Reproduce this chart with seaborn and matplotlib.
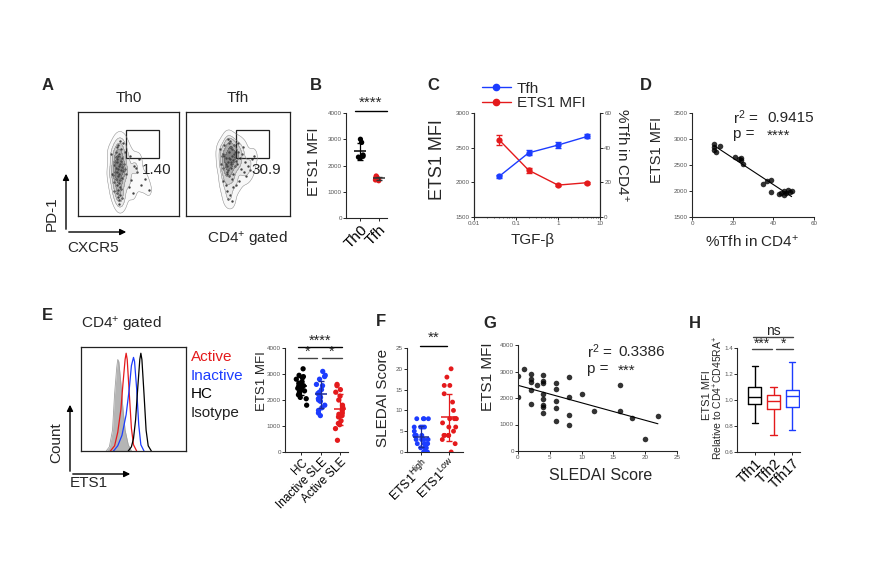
import numpy as np
import pandas as pd
import seaborn as sns
import matplotlib.pyplot as plt
from matplotlib.lines import Line2D
from matplotlib.patches import Rectangle, FancyArrowPatch

sns.set_style('ticks')
plt.rcParams['font.family'] = ['Liberation Sans', 'DejaVu Sans']
plt.rcParams['mathtext.default'] = 'regular'

# ---------------- data ----------------
# A: flow plots (PD-1 vs CXCR5), rough cell positions on a 0-100 scale
th0_x = [40, 41, 39, 42, 38, 43, 40, 37, 44, 41, 39, 42, 36, 45, 40, 38, 43, 41, 39, 44,
         37, 42, 40, 35, 46, 41, 38, 43, 39, 42, 40, 36, 44, 41, 47, 39, 43, 38, 41, 40,
         48, 52, 55, 50, 58, 62, 54, 66, 60, 70, 45, 33, 34, 47, 51, 44, 36, 42, 39, 57]
th0_y = [45, 48, 42, 50, 46, 44, 38, 52, 47, 40, 55, 35, 49, 43, 58, 36, 53, 32, 30, 56,
         42, 28, 25, 39, 50, 60, 62, 64, 22, 20, 18, 33, 37, 15, 45, 66, 26, 57, 12, 68,
         40, 35, 48, 28, 42, 30, 22, 36, 55, 25, 70, 60, 40, 62, 58, 17, 24, 72, 52, 46]
tfh_x = [42, 44, 40, 46, 38, 43, 41, 45, 39, 47, 36, 48, 42, 40, 44, 37, 49, 41, 43, 35,
         50, 39, 46, 33, 45, 42, 38, 52, 40, 47, 44, 36, 41, 43, 39, 54, 57, 60, 56, 63,
         48, 51, 45, 39, 42, 36, 40, 44, 53, 58, 34, 38, 47, 50, 62, 41, 37, 55, 65, 43]
tfh_y = [55, 58, 52, 60, 56, 50, 62, 54, 48, 57, 60, 53, 66, 44, 64, 68, 50, 70, 46, 58,
         62, 42, 68, 64, 40, 72, 50, 56, 74, 48, 36, 46, 38, 66, 40, 60, 52, 48, 42, 55,
         30, 34, 28, 24, 20, 34, 16, 14, 45, 38, 50, 30, 62, 70, 44, 56, 58, 66, 58, 52]
gate = [48, 56, 32, 27]          # x, y, width, height
gate_pct = ['1.40', '30.9']

# B: ETS1 MFI, Th0 vs Tfh
b_groups = ['Th0', 'Tfh']
b_th0 = [3000, 2880, 2320, 2280, 2350, 2400]
b_tfh = [1600, 1560, 1520, 1480, 1450, 1420]

# C: TGF-beta titration
tgf_dose = [0.04, 0.2, 1, 5]
ets1_mfi = [2610, 2175, 1960, 1995]
ets1_sem = [70, 35, 15, 15]
tfh_pct = [23.5, 37, 41.5, 46.5]
tfh_sem = [0.8, 1.5, 1.5, 1.2]

# D: ETS1 MFI vs %Tfh
d_tfh = [11, 11, 11, 12, 14, 21, 23, 24, 24, 25, 35, 37, 39, 39, 43, 44, 45, 45, 46, 47, 49, 48]
d_mfi = [2900, 2850, 2780, 2750, 2870, 2650, 2620, 2600, 2640, 2520, 2140, 2200, 2210, 1980,
         1950, 1960, 1920, 2000, 1970, 2020, 2000, 1990]

# E: histograms (x on a 0-100 intensity scale, y = % of max)
iso_x = [24, 27, 30, 32, 34, 35, 36, 38, 40, 42, 45, 48]
iso_y = [0, 4, 20, 55, 80, 88, 86, 65, 40, 20, 6, 0]
act_x = [28, 32, 35, 38, 40, 42, 43, 44, 46, 48, 50, 53]
act_y = [0, 5, 18, 40, 65, 88, 94, 88, 55, 22, 6, 0]
ina_x = [31, 35, 39, 43, 46, 48, 50, 51, 53, 55, 57, 60]
ina_y = [0, 5, 15, 35, 60, 82, 90, 86, 60, 25, 6, 0]
hc_x = [45, 48, 50, 52, 54, 56, 57, 58, 60, 62, 64, 67]
hc_y = [0, 4, 12, 30, 60, 88, 94, 88, 55, 20, 5, 0]

# E: ETS1 MFI by group
e_groups = ['HC', 'Inactive SLE', 'Active SLE']
e_hc = [3200, 2950, 2900, 2850, 2800, 2700, 2650, 2600, 2600, 2550, 2500, 2450, 2400,
        2350, 2300, 2200, 2100, 2050, 1800]
e_inactive = [3100, 2950, 2900, 2800, 2600, 2550, 2400, 2300, 2250, 2150, 2100, 2050,
              2000, 1950, 1800, 1700, 1600, 1500, 1400]
e_active = [2600, 2550, 2400, 2300, 2150, 2000, 1800, 1700, 1600, 1500, 1450, 1400, 1350,
            1200, 1100, 1050, 900, 450]

# F: SLEDAI score by ETS1 level
f_groups = ['ETS1$^{High}$', 'ETS1$^{Low}$']
f_high = [8, 8, 8, 8, 6, 6, 6, 6, 5, 4, 4, 4, 4, 4, 3, 3, 3, 3, 2, 2, 2, 2, 1, 1, 1, 0, 0, 0]
f_low = [20, 18, 16, 16, 14, 12, 10, 8, 8, 8, 7, 6, 6, 5, 4, 4, 4, 4, 3, 2, 0]

# G: ETS1 MFI vs SLEDAI
g_sledai = [0, 0, 1, 2, 2, 2, 2, 2, 3, 4, 4, 4, 4, 4, 4, 4, 4, 6, 6, 6, 6, 6, 8, 8, 8, 8,
            10, 12, 16, 16, 18, 20, 22]
g_mfi = [2830, 2025, 3094, 2906, 2730, 2616, 2300, 1774, 2478, 2868, 2629, 2578, 2150,
         1950, 1748, 1648, 1447, 2553, 2327, 1900, 1610, 1145, 2805, 2050, 1358, 968,
         2150, 1509, 2490, 1522, 1232, 440, 1308]

# H: box summaries (min, q1, median, q3, max)
h_groups = ['Tfh1', 'Tfh2', 'Tfh17']
h_tfh1 = [0.82, 0.97, 1.02, 1.10, 1.26]
h_tfh2 = [0.73, 0.93, 0.99, 1.04, 1.10]
h_tfh17 = [0.77, 0.95, 1.03, 1.08, 1.29]

RED = '#e41a1c'
BLUE = '#1c3cff'
BLACK = '#000000'
TICK_C = '#555555'

W, H = 880, 580
fig = plt.figure(figsize=(W / 100, H / 100), dpi=100)


def fx(x):
    return x / W


def fy(y):
    return 1 - y / H


def px_axes(x0, y0, x1, y1):
    return fig.add_axes([fx(x0), fy(y1), (x1 - x0) / W, (y1 - y0) / H])


def txt(x, y, s, size=11, ha='center', va='center', **kw):
    fig.text(fx(x), fy(y), s, fontsize=size, ha=ha, va=va, **kw)


def hline(x0, x1, y, color='k', lw=1.0):
    fig.add_artist(Line2D([fx(x0), fx(x1)], [fy(y), fy(y)], transform=fig.transFigure,
                          color=color, lw=lw))


def arrow(x0, y0, x1, y1):
    fig.add_artist(FancyArrowPatch((fx(x0), fy(y0)), (fx(x1), fy(y1)),
                                   transform=fig.transFigure, arrowstyle='-|>',
                                   mutation_scale=9, lw=1, color='k'))


def style_ax(ax):
    sns.despine(ax=ax)
    ax.tick_params(direction='out', length=2, width=0.7, labelsize=4.5,
                   labelcolor=TICK_C, pad=1)
    for s in ax.spines.values():
        s.set_linewidth(0.8)


def mean_sd(ax, pos, vals, color, half=0.3):
    m = np.mean(vals)
    s = np.std(vals, ddof=1)
    ax.hlines(m, pos - half, pos + half, color=color, lw=1.1, zorder=5)
    ax.errorbar(pos, m, yerr=s, fmt='none', ecolor=color, capsize=2.5, lw=0.9, zorder=5)


def box_ax(ax):
    ax.set_xticks([])
    ax.set_yticks([])
    ax.set_xlabel('')
    ax.set_ylabel('')
    for s in ax.spines.values():
        s.set_visible(True)
        s.set_linewidth(0.9)
        s.set_color('#222222')


np.random.seed(3)

# ---------------- A ----------------
txt(48, 85, 'A', size=12, weight='bold')
for (x0, x1), px, py, title, pct in [((78, 179), th0_x, th0_y, 'Th0', gate_pct[0]),
                                     ((186, 290), tfh_x, tfh_y, 'Tfh', gate_pct[1])]:
    ax = px_axes(x0, 112, x1, 216)
    sns.kdeplot(x=px, y=py, levels=6, fill=True, cmap='Greys', alpha=0.55, thresh=0.05,
                bw_adjust=0.9, ax=ax)
    sns.kdeplot(x=px, y=py, levels=6, color='#8a8a8a', linewidths=0.35, thresh=0.05,
                bw_adjust=0.9, ax=ax)
    sns.scatterplot(x=px, y=py, s=3, color='#444444', linewidth=0, ax=ax)
    ax.add_patch(Rectangle((gate[0], gate[1]), gate[2], gate[3], fill=False, lw=0.9,
                           edgecolor='#222222'))
    ax.text(gate[0] + 15, gate[1] - 12, pct, fontsize=11, ha='left', va='center')
    ax.set_xlim(0, 100)
    ax.set_ylim(0, 100)
    box_ax(ax)
    txt((x0 + x1) / 2, 98, title, size=11)
arrow(66, 232, 66, 171)
arrow(66, 232, 129, 232)
txt(52, 214, 'PD-1', size=11, rotation=90)
txt(67, 248, 'CXCR5', size=11, ha='left')
txt(247, 240, 'CD4$^{+}$ gated', size=11)

# ---------------- B ----------------
txt(316, 85, 'B', size=12, weight='bold')
ax = px_axes(346, 113, 387, 218)
df_b = pd.DataFrame({'group': [b_groups[0]] * len(b_th0) + [b_groups[1]] * len(b_tfh),
                     'mfi': b_th0 + b_tfh})
sns.stripplot(data=df_b, x='group', y='mfi', hue='group', palette=[BLACK, RED],
              size=3.8, jitter=0.2, legend=False, ax=ax)
mean_sd(ax, 0, b_th0, BLACK)
mean_sd(ax, 1, b_tfh, '#333333')
ax.set_ylim(0, 4000)
ax.set_yticks([0, 1000, 2000, 3000, 4000])
ax.set_xlim(-0.74, 1.42)
style_ax(ax)
ax.set_xlabel('')
ax.set_ylabel('')
ax.set_xticks([0, 1])
ax.set_xticklabels(b_groups, rotation=45, ha='right', rotation_mode='anchor',
                   fontsize=11, color='k')
txt(314, 162, 'ETS1 MFI', size=11, rotation=90)
hline(355, 387, 111)
txt(371, 103, '****', size=11)

# ---------------- C ----------------
txt(433, 85, 'C', size=12, weight='bold')
ax = px_axes(474, 113, 600, 217)
ax2 = ax.twinx()
sns.lineplot(x=tgf_dose, y=ets1_mfi, color=RED, marker='o', markersize=4.5,
             markeredgewidth=0, lw=1, ax=ax)
ax.errorbar(tgf_dose, ets1_mfi, yerr=ets1_sem, fmt='none', ecolor=RED, capsize=2, lw=0.8)
sns.lineplot(x=tgf_dose, y=tfh_pct, color=BLUE, marker='o', markersize=4.5,
             markeredgewidth=0, lw=1, ax=ax2)
ax2.errorbar(tgf_dose, tfh_pct, yerr=tfh_sem, fmt='none', ecolor=BLUE, capsize=2, lw=0.8)
ax.set_xscale('log')
ax.set_xlim(0.01, 10)
ax.set_xticks([0.01, 0.1, 1, 10])
ax.set_xticklabels(['0.01', '0.1', '1', '10'])
ax.set_ylim(1500, 3000)
ax.set_yticks([1500, 2000, 2500, 3000])
ax2.set_ylim(0, 60)
ax2.set_yticks([0, 20, 40, 60])
for a in (ax, ax2):
    a.tick_params(direction='out', length=2, width=0.7, labelsize=4.5,
                  labelcolor=TICK_C, pad=1)
    a.tick_params(which='minor', length=1, width=0.5)
    a.spines['top'].set_visible(False)
    for s in a.spines.values():
        s.set_linewidth(0.8)
ax2.spines['right'].set_visible(True)
ax.set_ylabel('')
ax2.set_ylabel('')
txt(437, 160, 'ETS1 MFI', size=13, rotation=90)
txt(622, 155, '%Tfh in CD4$^{+}$', size=11, rotation=270)
txt(533, 240, 'TGF-β', size=11)
handles = [Line2D([], [], color=BLUE, marker='o', ms=4.5, lw=1),
           Line2D([], [], color=RED, marker='o', ms=4.5, lw=1)]
fig.legend(handles, ['Tfh', 'ETS1 MFI'], loc='center left',
           bbox_to_anchor=(fx(474), fy(96)), frameon=False, fontsize=11,
           handlelength=1.9, labelspacing=0.05, borderpad=0, handletextpad=0.4)

# ---------------- D ----------------
txt(646, 85, 'D', size=12, weight='bold')
ax = px_axes(692, 113, 814, 217)
sns.regplot(x=d_tfh, y=d_mfi, ci=None, color='k', truncate=True,
            scatter_kws={'s': 16, 'linewidths': 0}, line_kws={'lw': 0.8}, ax=ax)
ax.set_xlim(0, 60)
ax.set_ylim(1500, 3500)
ax.set_xticks([0, 20, 40, 60])
ax.set_yticks([1500, 2000, 2500, 3000, 3500])
style_ax(ax)
txt(657, 150, 'ETS1 MFI', size=10.5, rotation=90)
txt(752, 242, '%Tfh in CD4$^{+}$', size=11)
txt(733, 118, 'r$^{2}$ =', size=11, ha='left')
txt(767, 118, '0.9415', size=11, ha='left')
txt(733, 134, 'p =', size=11, ha='left')
txt(767, 136, '****', size=11, ha='left')

# ---------------- E ----------------
txt(47, 316, 'E', size=12, weight='bold')
txt(81, 324, 'CD4$^{+}$ gated', size=11, ha='left')
ax = px_axes(81, 347, 186, 451)
ax.fill_between(iso_x, iso_y, color='#b5b5b5', lw=0)
sns.lineplot(x=iso_x, y=iso_y, color='#a0a0a0', lw=0.6, ax=ax)
sns.lineplot(x=act_x, y=act_y, color=RED, lw=0.9, ax=ax)
sns.lineplot(x=ina_x, y=ina_y, color=BLUE, lw=0.9, ax=ax)
sns.lineplot(x=hc_x, y=hc_y, color=BLACK, lw=0.9, ax=ax)
ax.set_xlim(0, 100)
ax.set_ylim(0, 100)
box_ax(ax)
arrow(70, 474, 70, 402)
arrow(70, 474, 133, 474)
txt(56, 443, 'Count', size=11, rotation=90)
txt(70, 483, 'ETS1', size=11, ha='left')
for lbl, col, yy in [('Active', RED, 357), ('Inactive', BLUE, 376),
                     ('HC', BLACK, 394), ('Isotype', '#222222', 413)]:
    txt(191, yy, lbl, size=11, ha='left', color=col)

ax = px_axes(285, 348, 348, 452)
df_e = pd.DataFrame({'group': [e_groups[0]] * len(e_hc) + [e_groups[1]] * len(e_inactive)
                     + [e_groups[2]] * len(e_active),
                     'mfi': e_hc + e_inactive + e_active})
sns.stripplot(data=df_e, x='group', y='mfi', hue='group', palette=[BLACK, BLUE, RED],
              size=3.8, jitter=0.28, legend=False, ax=ax)
mean_sd(ax, 0, e_hc, BLACK)
mean_sd(ax, 1, e_inactive, '#1a2a99')
mean_sd(ax, 2, e_active, RED)
ax.set_ylim(0, 4000)
ax.set_yticks([0, 1000, 2000, 3000, 4000])
ax.set_xlim(-0.85, 2.4)
style_ax(ax)
ax.set_xlabel('')
ax.set_ylabel('')
ax.set_xticks([0, 1, 2])
ax.set_xticklabels(e_groups, rotation=45, ha='right', rotation_mode='anchor',
                   fontsize=8.5, color='k')
txt(262, 381, 'ETS1 MFI', size=9.5, rotation=90)
hline(298, 342, 347)
txt(320, 341, '****', size=10.5)
hline(298, 317, 358, color='#444444')
hline(322, 342, 358, color='#444444')
txt(308, 352, '*', size=10.5)
txt(332, 352, '*', size=10.5)

# ---------------- F ----------------
txt(381, 322, 'F', size=12, weight='bold')
ax = px_axes(407, 348, 463, 452)
df_f = pd.DataFrame({'group': [f_groups[0]] * len(f_high) + [f_groups[1]] * len(f_low),
                     'score': f_high + f_low})
sns.stripplot(data=df_f, x='group', y='score', hue='group', palette=[BLUE, RED],
              size=3.5, jitter=0.28, legend=False, ax=ax)
mean_sd(ax, 0, f_high, '#1a2a99')
mean_sd(ax, 1, f_low, RED)
ax.set_ylim(0, 25)
ax.set_yticks([0, 5, 10, 15, 20, 25])
ax.set_xlim(-0.5, 1.5)
style_ax(ax)
ax.set_xlabel('')
ax.set_ylabel('')
ax.set_xticks([0, 1])
ax.set_xticklabels(f_groups, rotation=45, ha='right', rotation_mode='anchor',
                   fontsize=9, color='k')
txt(383, 398, 'SLEDAI Score', size=11, rotation=90)
hline(420, 447, 346)
txt(434, 338, '**', size=11)

# ---------------- G ----------------
txt(490, 324, 'G', size=12, weight='bold')
ax = px_axes(518, 345, 677, 451)
sns.regplot(x=g_sledai, y=g_mfi, ci=None, color='k', truncate=True,
            scatter_kws={'s': 16, 'linewidths': 0}, line_kws={'lw': 0.8}, ax=ax)
ax.set_xlim(0, 25)
ax.set_ylim(0, 4000)
ax.set_xticks([0, 5, 10, 15, 20, 25])
ax.set_yticks([0, 1000, 2000, 3000, 4000])
style_ax(ax)
txt(488, 377, 'ETS1 MFI', size=11, rotation=90)
txt(601, 475, 'SLEDAI Score', size=11.5)
txt(587, 352, 'r$^{2}$ =', size=11, ha='left')
txt(618, 352, '0.3386', size=11, ha='left')
txt(587, 369, 'p =', size=11, ha='left')
txt(618, 371, '***', size=11, ha='left')

# ---------------- H ----------------
txt(695, 324, 'H', size=12, weight='bold')
ax = px_axes(737, 348, 800, 452)
df_h = pd.DataFrame({'subset': [h_groups[0]] * 5 + [h_groups[1]] * 5 + [h_groups[2]] * 5,
                     'value': h_tfh1 + h_tfh2 + h_tfh17})
sns.boxplot(data=df_h, x='subset', y='value', hue='subset', palette=[BLACK, RED, BLUE],
            whis=np.inf, fill=False, width=0.7, linewidth=1.0, legend=False, ax=ax)
ax.set_ylim(0.6, 1.4)
ax.set_yticks([0.6, 0.8, 1.0, 1.2, 1.4])
ax.set_yticklabels(['0.6', '0.8', '1.0', '1.2', '1.4'])
ax.set_xlim(-0.97, 2.43)
style_ax(ax)
ax.tick_params(axis='y', pad=0.5)
ax.set_xlabel('')
ax.set_ylabel('')
ax.set_xticks([0, 1, 2])
ax.set_xticklabels(h_groups, rotation=45, ha='right', rotation_mode='anchor',
                   fontsize=10, color='k')
txt(707, 395, 'ETS1 MFI', size=8, rotation=90)
txt(718, 398, 'Relative to CD4$^{+}$CD45RA$^{+}$', size=7.5, rotation=90)
hline(753, 793, 337, color='#444444')
txt(773, 331, 'ns', size=10)
hline(752, 772, 349, color='#444444')
hline(776, 793, 349, color='#444444')
txt(762, 344, '***', size=10)
txt(784, 344, '*', size=10)

fig.savefig('out.png', dpi=100)
